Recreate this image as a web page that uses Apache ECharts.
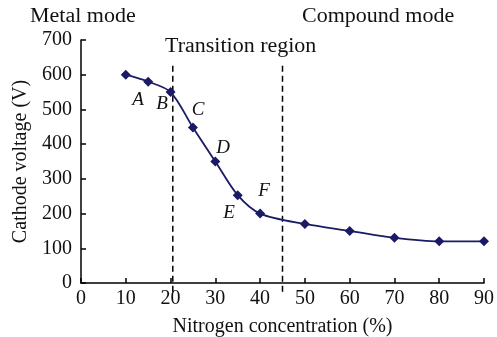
<!DOCTYPE html>
<html>
<head>
<meta charset="utf-8">
<script src="https://cdn.jsdelivr.net/npm/echarts@6/dist/echarts.min.js"></script>
<style>
html,body{margin:0;padding:0;background:#fff;}
#chart{width:497px;height:337px;}
</style>
</head>
<body>
<div id="chart"></div>
<script>
var nitrogen=[10,15,20,25,30,35,40,50,60,70,80,90];
var voltage=[600,580,550,448,350,253,200,170,150,130,120,120];
var regionBounds=[20.5,45];
var pointLetters=['A','B','C','D','E','F'];

var FONT='Liberation Serif';
var FS=20;
var chart=echarts.init(document.getElementById('chart'));

var pts=nitrogen.map(function(x,i){return [x,voltage[i]];});

function dashed(x){
	return {
		type:'line',
		data:[[x,-25],[x,635]],
		symbol:'none',
		clip:false,
		silent:true,
		lineStyle:{color:'#000',width:1.5,type:[6,4]},
		z:1
	};
}

// positions des lettres (px)
var letterPos=[[138,100],[162,104],[198,110],[223,148],[229,213],[264,191]];
function topText(t,x,y){
	return {type:'text',x:x,y:y,scaleX:1.1,style:{text:t,font:FS+'px '+FONT,fill:'#111'}};
}
var graphics=[
	topText('Metal mode',30,7),
	topText('Transition region',165,37),
	topText('Compound mode',302,7)
];
pointLetters.forEach(function(l,i){
	graphics.push({type:'text',x:letterPos[i][0],y:letterPos[i][1],style:{text:l,font:'italic 19px '+FONT,fill:'#111',align:'center',verticalAlign:'middle'}});
});

var option={
	animation:false,
	grid:{left:81,right:13,top:40,bottom:54,containLabel:false,outerBoundsMode:'none'},
	xAxis:{
		type:'value',min:0,max:90,interval:10,
		name:'Nitrogen concentration (%)',nameLocation:'middle',nameGap:34,
		nameTextStyle:{fontFamily:FONT,fontSize:FS,color:'#111'},
		axisLine:{lineStyle:{color:'#000',width:1.5}},
		axisTick:{inside:true,length:5,lineStyle:{color:'#000',width:1.5}},
		axisLabel:{fontFamily:FONT,fontSize:FS,color:'#111',margin:6},
		splitLine:{show:false}
	},
	yAxis:{
		type:'value',min:0,max:700,interval:100,
		name:'Cathode voltage (V)',nameLocation:'middle',nameGap:48,
		nameTextStyle:{fontFamily:FONT,fontSize:FS,color:'#111'},
		axisLine:{show:true,lineStyle:{color:'#000',width:1.5}},
		axisTick:{show:true,inside:true,length:5,lineStyle:{color:'#000',width:1.5}},
		axisLabel:{fontFamily:FONT,fontSize:FS,color:'#111',margin:9},
		splitLine:{show:false}
	},
	graphic:graphics,
	series:[
		dashed(regionBounds[0]),
		dashed(regionBounds[1]),
		{
			type:'line',
			data:pts,
			smooth:0.3,
			symbol:'diamond',
			symbolSize:10,
			itemStyle:{color:'#1a1a66'},
			lineStyle:{color:'#1a1a66',width:1.8},
			z:3
		}
	]
};
chart.setOption(option);
</script>
</body>
</html>
